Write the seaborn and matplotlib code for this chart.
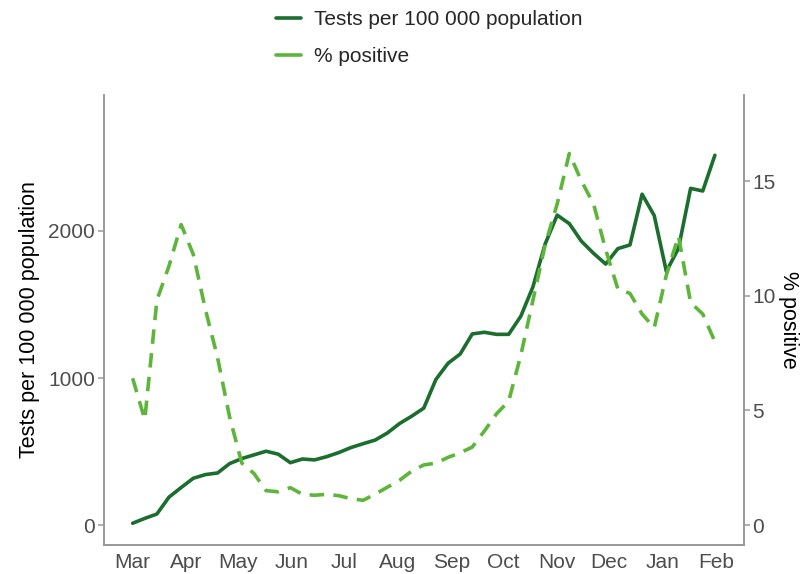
import pandas as pd
import matplotlib
matplotlib.use("Agg")
import matplotlib.pyplot as plt
import seaborn as sns

# weekly values (Mar 2020 - Feb 2021)
weeks = pd.date_range("2020-03-01", periods=49, freq="7D")
tests = [12, 45, 75, 190, 255, 318, 343, 354, 418, 452,
         477, 502, 482, 424, 449, 443, 465, 493, 527, 553,
         578, 626, 690, 740, 795, 990, 1100, 1163, 1300, 1311,
         1297, 1297, 1420, 1620, 1910, 2108, 2050, 1930, 1848, 1775,
         1880, 1905, 2250, 2105, 1725, 1882, 2290, 2272, 2515]
positive = [6.4, 4.6, 9.8, 11.3, 13.1, 11.8, 9.4, 7.3, 4.7, 2.7,
            2.25, 1.5, 1.45, 1.63, 1.34, 1.3, 1.34, 1.28, 1.15, 1.08,
            1.35, 1.65, 1.95, 2.35, 2.62, 2.7, 2.95, 3.15, 3.4, 4.1,
            4.85, 5.4, 7.4, 9.8, 12.2, 14.0, 16.2, 15.0, 14.0, 12.0,
            10.3, 10.1, 9.2, 8.6, 10.9, 12.6, 9.7, 9.2, 8.0]
month_labels = ["Mar", "Apr", "May", "Jun", "Jul", "Aug", "Sep", "Oct",
                "Nov", "Dec", "Jan", "Feb"]

df = pd.DataFrame({"week": weeks, "tests": tests, "positive": positive})

dark = "#1b6e2e"
light = "#5db53a"
grey = "#999999"

sns.set_style("white")
plt.rcParams["font.family"] = ["Liberation Sans", "DejaVu Sans"]

fig = plt.figure(figsize=(8.05, 5.74), dpi=100)
ax = fig.add_axes([0.1286, 0.0505, 0.7956, 0.784])
ax2 = ax.twinx()

sns.lineplot(data=df, x="week", y="tests", ax=ax, color=dark, linewidth=2.6,
             label="Tests per 100 000 population", legend=False)
sns.lineplot(data=df, x="week", y="positive", ax=ax2, color=light, linewidth=2.6,
             label="% positive", legend=False)
ax2.lines[0].set_dashes((4, 2.6))

# ggplot-like 5% expansion on the date axis
span = weeks[-1] - weeks[0]
ax.set_xlim(weeks[0] - span * 0.05, weeks[-1] + span * 0.05)
ticks = pd.date_range("2020-03-01", periods=12, freq="MS")
ax.set_xticks(ticks)
ax.set_xticklabels(month_labels)

ax.set_ylim(-136, 2925)
ax.set_yticks([0, 1000, 2000])
ax2.set_ylim(-0.87, 18.75)
ax2.set_yticks([0, 5, 10, 15])

ax.set_xlabel("")
ax.set_ylabel("Tests per 100 000 population", fontsize=15.5, color="black", labelpad=6)
ax2.set_ylabel("% positive", fontsize=15.5, color="black", rotation=-90, labelpad=17)

for a in (ax, ax2):
    for s in a.spines.values():
        s.set_color(grey)
        s.set_linewidth(1.2)
    a.spines["top"].set_visible(False)
    a.tick_params(axis="both", colors=grey, labelcolor="#4d4d4d",
                  labelsize=15, length=4, width=1.1, direction="out")
ax.tick_params(axis="x", pad=2)
ax.tick_params(axis="y", left=True, pad=2)
ax2.tick_params(axis="y", right=True, pad=2)

h1, l1 = ax.get_legend_handles_labels()
h2, l2 = ax2.get_legend_handles_labels()
fig.legend(h1 + h2, l1 + l2, loc="upper left", bbox_to_anchor=(0.32, 1.015),
           frameon=False, fontsize=15, handlelength=1.2, handletextpad=0.62,
           labelspacing=0.85)
for lh in fig.legends[0].get_lines():
    lh.set_linestyle("-")

fig.savefig("out.png", dpi=100)
